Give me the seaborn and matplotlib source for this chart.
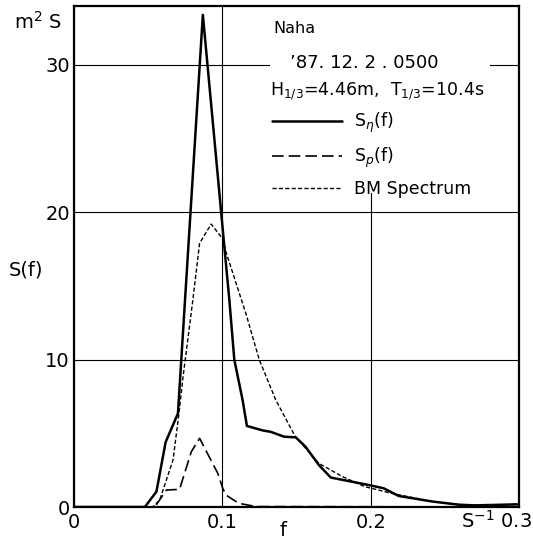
import numpy as np
import pandas as pd
import seaborn as sns
import matplotlib.pyplot as plt
from matplotlib.patches import Rectangle

# ---------------------------------------------------------
# DATA
# ---------------------------------------------------------

# measured spectrum S_eta(f)
f_eta = [0.0, 0.0477, 0.0555, 0.0617, 0.070, 0.0868, 0.1013, 0.1047, 0.108,
         0.1136, 0.1165, 0.127, 0.1326, 0.1416, 0.1494, 0.156, 0.165, 0.173,
         0.1987, 0.2087, 0.2188, 0.241, 0.259, 0.270, 0.299]
s_eta = [0.0, 0.0, 1.04, 4.4, 6.35, 33.4, 17.65, 14.0, 10.0,
         7.25, 5.5, 5.2, 5.1, 4.77, 4.73, 4.09, 2.85, 2.0,
         1.49, 1.27, 0.75, 0.38, 0.16, 0.11, 0.18]

# pressure spectrum S_p(f)
f_p = [0.0, 0.0544, 0.0622, 0.0711, 0.079, 0.0846, 0.0969, 0.1002, 0.1024,
       0.111, 0.1226, 0.299]
s_p = [0.0, 0.0, 1.15, 1.2, 3.75, 4.66, 2.28, 1.27, 0.81,
       0.25, 0.03, 0.0]

# Bretschneider-Mitsuyasu spectrum
f_bm = [0.0, 0.053, 0.0577, 0.0667, 0.0707, 0.0734, 0.080, 0.0846, 0.0924,
        0.1002, 0.1024, 0.1159, 0.1248, 0.136, 0.149, 0.165, 0.181, 0.196,
        0.214, 0.241, 0.259, 0.270, 0.299]
s_bm = [0.0, 0.0, 0.47, 3.2, 6.35, 8.8, 14.0, 17.9, 19.2,
        18.2, 17.3, 13.1, 10.0, 7.25, 4.8, 2.96, 2.06, 1.38,
        0.93, 0.38, 0.16, 0.11, 0.18]

x_ticks = [0, 0.1, 0.2, 0.3]
x_labels = ["0", "0.1", "0.2", ""]   # last one drawn by hand with the unit
y_ticks = [0, 10, 20, 30]
y_labels = ["0", "10", "20", "30"]

station = "Naha"
date_str = "\u201987. 12. 2 . 0500"
wave_str = r"H$_{1/3}$=4.46m,  T$_{1/3}$=10.4s"

# ---------------------------------------------------------
# PLOT
# ---------------------------------------------------------

sns.set_theme(style="white")
plt.rcParams["font.family"] = ["DejaVu Sans"]
plt.rcParams["text.color"] = "black"
plt.rcParams["axes.labelcolor"] = "black"

fig = plt.figure(figsize=(5.33, 5.44), dpi=100)
ax = fig.add_axes([0.139, 0.068, 0.835, 0.921])

df_eta = pd.DataFrame({"f": f_eta, "S": s_eta})
df_p = pd.DataFrame({"f": f_p, "S": s_p})
df_bm = pd.DataFrame({"f": f_bm, "S": s_bm})

sns.lineplot(data=df_eta, x="f", y="S", ax=ax, color="black", lw=1.8,
             label=r"S$_\eta$(f)", zorder=3)
sns.lineplot(data=df_p, x="f", y="S", ax=ax, color="black", lw=1.2,
             dashes=(7, 3), label=r"S$_p$(f)", zorder=3)
sns.lineplot(data=df_bm, x="f", y="S", ax=ax, color="black", lw=1.0,
             dashes=(3, 1.6), label="BM Spectrum", zorder=3)

ax.set_xlim(0, 0.3)
ax.set_ylim(0, 34)
ax.set_xticks(x_ticks)
ax.set_xticklabels(x_labels)
ax.set_yticks(y_ticks)
ax.set_yticklabels(y_labels)
ax.tick_params(length=0, labelsize=14, colors="black")
ax.tick_params(axis="x", pad=4)
ax.tick_params(axis="y", pad=3)

ax.set_axisbelow(True)
ax.grid(True, color="black", lw=0.8)
for s in ax.spines.values():
    s.set_color("black")
    s.set_linewidth(1.6)

# white block behind the annotation
ax.add_patch(Rectangle((0.44, 0.627), 0.494, 0.373, transform=ax.transAxes,
                       facecolor="white", edgecolor="none", zorder=1))

ax.text(0.448, 0.955, station, transform=ax.transAxes, fontsize=11.5,
        va="center", ha="left")
ax.text(0.485, 0.887, date_str, transform=ax.transAxes, fontsize=13,
        va="center", ha="left")
ax.text(0.44, 0.83, wave_str, transform=ax.transAxes, fontsize=12.5,
        va="center", ha="left")

leg = ax.legend(loc="upper left", bbox_to_anchor=(0.445, 0.79), frameon=False,
                fontsize=12.5, handlelength=4.0, handletextpad=0.7,
                labelspacing=0.6, borderaxespad=0, borderpad=0)
for h in leg.get_lines():
    h.set_color("black")

# axis labels
ax.set_xlabel("f", fontsize=14)
ax.xaxis.set_label_coords(0.47, -0.046)
ax.xaxis.label.set_va("center")
ax.set_ylabel("S(f)", fontsize=14, rotation=0)
ax.yaxis.set_label_coords(-0.108, 0.473)
ax.yaxis.label.set_va("center")
ax.yaxis.label.set_ha("center")
ax.text(-0.027, 0.968, r"m$^2$ S", transform=ax.transAxes, fontsize=14,
        va="center", ha="right")
ax.text(1.029, -0.028, r"S$^{-1}$ 0.3", transform=ax.transAxes, fontsize=14,
        va="center", ha="right")

fig.savefig("out.png", dpi=100)
